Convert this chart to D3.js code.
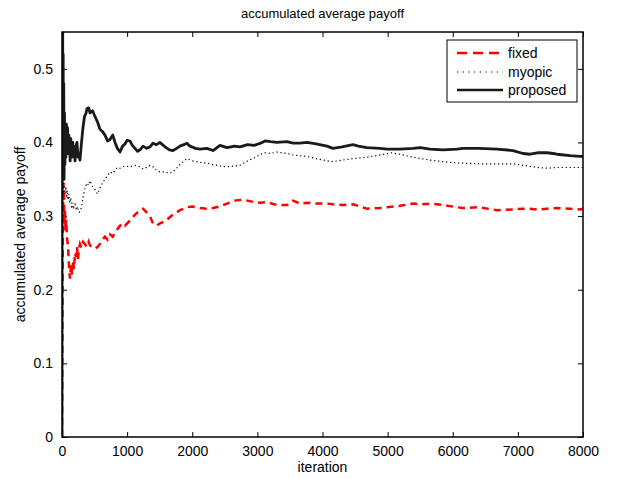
<!DOCTYPE html>
<html><head><meta charset="utf-8">
<script src="https://cdn.jsdelivr.net/npm/d3@7"></script>
<style>body{margin:0;background:#fff;}svg{display:block;font-family:"Liberation Sans",Arial,sans-serif;}</style>
</head><body><svg id="c" width="619" height="478"></svg>
<script>
const xTicks = [0,1000,2000,3000,4000,5000,6000,7000,8000];
const yTicks = [0,0.1,0.2,0.3,0.4,0.5];
const seriesNames = ["fixed","myopic","proposed"];

const proposedIter = [0,3,6,10,14,18,22,27,32,38,45,52,60,68,77,85,95,105,115,125,135,145,155,165,175,185,200,215,230,245,260,276,300,322,345,370,384,410,430,470,507,545,583,620,660,700,737,780,814,850,891,930,967,1000,1044,1080,1121,1160,1198,1244,1300,1351,1397,1450,1505,1582,1650,1704,1760,1812,1870,1919,1965,2050,2119,2226,2319,2426,2534,2650,2733,2850,2950,3050,3117,3200,3301,3455,3547,3654,3762,3900,4069,4161,4300,4468,4550,4683,4883,4990,5190,5390,5500,5651,5850,6065,6157,6400,6679,6925,7079,7186,7300,7447,7539,7601,7800,7954,8000];
const proposedVal = [0.0,0.67,0.40,0.60,0.36,0.52,0.38,0.48,0.35,0.44,0.37,0.42,0.38,0.425,0.395,0.42,0.385,0.41,0.40,0.375,0.405,0.39,0.38,0.40,0.385,0.395,0.375,0.395,0.40,0.38,0.385,0.376,0.40,0.42,0.435,0.44,0.446,0.447,0.44,0.443,0.435,0.428,0.418,0.415,0.41,0.402,0.404,0.41,0.40,0.392,0.387,0.395,0.398,0.403,0.402,0.396,0.392,0.388,0.39,0.395,0.392,0.394,0.399,0.397,0.40,0.394,0.39,0.389,0.392,0.395,0.397,0.399,0.395,0.392,0.391,0.392,0.389,0.396,0.393,0.395,0.394,0.397,0.396,0.399,0.402,0.401,0.400,0.401,0.399,0.399,0.400,0.398,0.395,0.392,0.394,0.397,0.395,0.393,0.392,0.391,0.391,0.392,0.393,0.391,0.390,0.391,0.392,0.392,0.391,0.389,0.385,0.384,0.386,0.386,0.385,0.384,0.382,0.381,0.381];

const myopicIter = [0,5,10,15,22,30,40,50,60,70,80,92,105,120,135,150,165,180,200,220,240,260,276,300,322,353,384,410,430,470,507,545,583,620,660,700,737,780,814,850,891,967,1044,1121,1198,1244,1300,1351,1397,1450,1505,1582,1650,1704,1812,1919,2000,2119,2226,2319,2426,2534,2650,2733,2850,2950,3050,3117,3200,3301,3455,3547,3654,3762,3900,4069,4161,4300,4468,4683,4883,5050,5190,5390,5651,5850,6065,6157,6400,6679,6925,7079,7300,7447,7601,7800,8000];
const myopicVal = [0.5,0.30,0.42,0.33,0.38,0.34,0.335,0.33,0.34,0.325,0.335,0.322,0.33,0.318,0.325,0.31,0.318,0.312,0.316,0.308,0.313,0.305,0.306,0.312,0.325,0.338,0.345,0.342,0.348,0.34,0.336,0.33,0.338,0.345,0.35,0.355,0.36,0.358,0.362,0.366,0.365,0.368,0.367,0.369,0.367,0.364,0.366,0.369,0.367,0.362,0.36,0.36,0.358,0.36,0.37,0.378,0.375,0.373,0.372,0.37,0.368,0.367,0.368,0.369,0.375,0.379,0.384,0.386,0.385,0.387,0.385,0.383,0.382,0.381,0.378,0.375,0.374,0.376,0.378,0.38,0.383,0.386,0.384,0.380,0.376,0.374,0.372,0.372,0.371,0.371,0.371,0.369,0.366,0.365,0.366,0.366,0.366];

const fixedIter = [0,5,10,15,22,30,38,46,55,65,77,92,108,123,140,154,170,184,200,215,230,246,260,276,300,322,353,384,410,430,470,507,545,583,620,660,700,737,780,814,850,891,930,967,1044,1121,1198,1244,1300,1351,1397,1450,1505,1582,1650,1704,1812,1919,2000,2119,2226,2319,2426,2534,2650,2733,2850,2950,3050,3148,3301,3455,3547,3654,3762,3900,4069,4161,4300,4468,4683,4883,4990,5190,5390,5500,5651,5850,6065,6157,6400,6679,6925,7079,7186,7300,7447,7601,7800,7954,8000];
const fixedVal = [0.0,0.10,0.22,0.30,0.345,0.33,0.29,0.31,0.28,0.295,0.27,0.26,0.23,0.215,0.235,0.22,0.24,0.228,0.25,0.245,0.258,0.242,0.255,0.262,0.257,0.265,0.262,0.258,0.265,0.26,0.257,0.256,0.258,0.262,0.268,0.272,0.268,0.275,0.272,0.278,0.282,0.287,0.29,0.287,0.294,0.302,0.308,0.31,0.305,0.300,0.29,0.287,0.29,0.293,0.298,0.302,0.308,0.312,0.313,0.311,0.310,0.311,0.313,0.317,0.321,0.322,0.321,0.319,0.318,0.319,0.315,0.315,0.321,0.317,0.318,0.317,0.317,0.316,0.315,0.316,0.310,0.311,0.312,0.314,0.317,0.316,0.317,0.315,0.312,0.311,0.312,0.308,0.309,0.310,0.310,0.309,0.310,0.311,0.310,0.309,0.310];

const L=62,R=583,T=32,B=437;
const svg=d3.select("#c");
const x=d3.scaleLinear().domain([0,8000]).range([L,R]);
const y=d3.scaleLinear().domain([0,0.55]).range([B,T]);

svg.append("defs").append("clipPath").attr("id","clip").append("rect")
  .attr("x",L).attr("y",T).attr("width",R-L).attr("height",B-T);

const fmtY=d=>d===0?"0":d3.format(".1f")(d);
// axes with inward ticks
const gx=svg.append("g").attr("transform",`translate(0,${B})`)
  .call(d3.axisBottom(x).tickValues(xTicks).tickSize(-5).tickPadding(9).tickFormat(d3.format("d")));
const gxt=svg.append("g").attr("transform",`translate(0,${T})`)
  .call(d3.axisTop(x).tickValues(xTicks).tickSize(-5).tickFormat(""));
const gy=svg.append("g").attr("transform",`translate(${L},0)`)
  .call(d3.axisLeft(y).tickValues(yTicks).tickSize(-5).tickPadding(9).tickFormat(fmtY));
const gyr=svg.append("g").attr("transform",`translate(${R},0)`)
  .call(d3.axisRight(y).tickValues(yTicks).tickSize(-5).tickFormat(""));
[gx,gxt,gy,gyr].forEach(g=>{
  g.select(".domain").remove();
  g.selectAll("line").attr("stroke","#000").attr("stroke-width",1);
  g.selectAll("text").attr("fill","#000").style("font-size","14px").style("font-family","Liberation Sans, Arial, sans-serif");
});

const line=d3.line().x(d=>x(d[0])).y(d=>y(d[1]));
const zip=(a,b)=>a.map((v,i)=>[v,b[i]]);
const plot=svg.append("g").attr("clip-path","url(#clip)");
plot.append("path").datum(zip(fixedIter,fixedVal)).attr("d",line)
  .attr("fill","none").attr("stroke","#ff0000").attr("stroke-width",2.5).attr("stroke-dasharray","7,5");
plot.append("path").datum(zip(myopicIter,myopicVal)).attr("d",line)
  .attr("fill","none").attr("stroke","#000").attr("stroke-width",1.2).attr("stroke-dasharray","1.2,2.8");
plot.append("path").datum(zip(proposedIter,proposedVal)).attr("d",line)
  .attr("fill","none").attr("stroke","#1a1a1a").attr("stroke-width",2.8).attr("stroke-linejoin","round");

svg.append("rect").attr("x",L).attr("y",T).attr("width",R-L).attr("height",B-T)
  .attr("fill","none").attr("stroke","#000").attr("stroke-width",1.5);

// titles
svg.append("text").attr("x",(L+R)/2).attr("y",18).attr("text-anchor","middle")
  .style("font-size","13px").attr("fill","#000").text("accumulated average payoff");
svg.append("text").attr("x",(L+R)/2).attr("y",472).attr("text-anchor","middle")
  .style("font-size","14px").attr("fill","#000").text("iteration");
svg.append("text").attr("transform",`translate(25,${(T+B)/2}) rotate(-90)`).attr("text-anchor","middle")
  .style("font-size","14px").attr("fill","#000").text("accumulated average payoff");

// legend
const lg=svg.append("g");
lg.append("rect").attr("x",447).attr("y",40).attr("width",130).attr("height",62)
  .attr("fill","#fff").attr("stroke","#000").attr("stroke-width",1);
const legStyles=[
  {c:"#ff0000",w:2.5,d:"10,6"},
  {c:"#000",w:1.2,d:"1.2,4.5"},
  {c:"#1a1a1a",w:2.5,d:null}];
const legY=[53,72,90];
seriesNames.forEach((n,i)=>{
  const s=legStyles[i];
  const l=lg.append("line").attr("x1",457).attr("x2",503).attr("y1",legY[i]).attr("y2",legY[i])
    .attr("stroke",s.c).attr("stroke-width",s.w);
  if(s.d) l.attr("stroke-dasharray",s.d);
  lg.append("text").attr("x",508).attr("y",legY[i]).attr("dy","0.35em")
    .style("font-size","14px").attr("fill","#000").text(n);
});
</script></body></html>
